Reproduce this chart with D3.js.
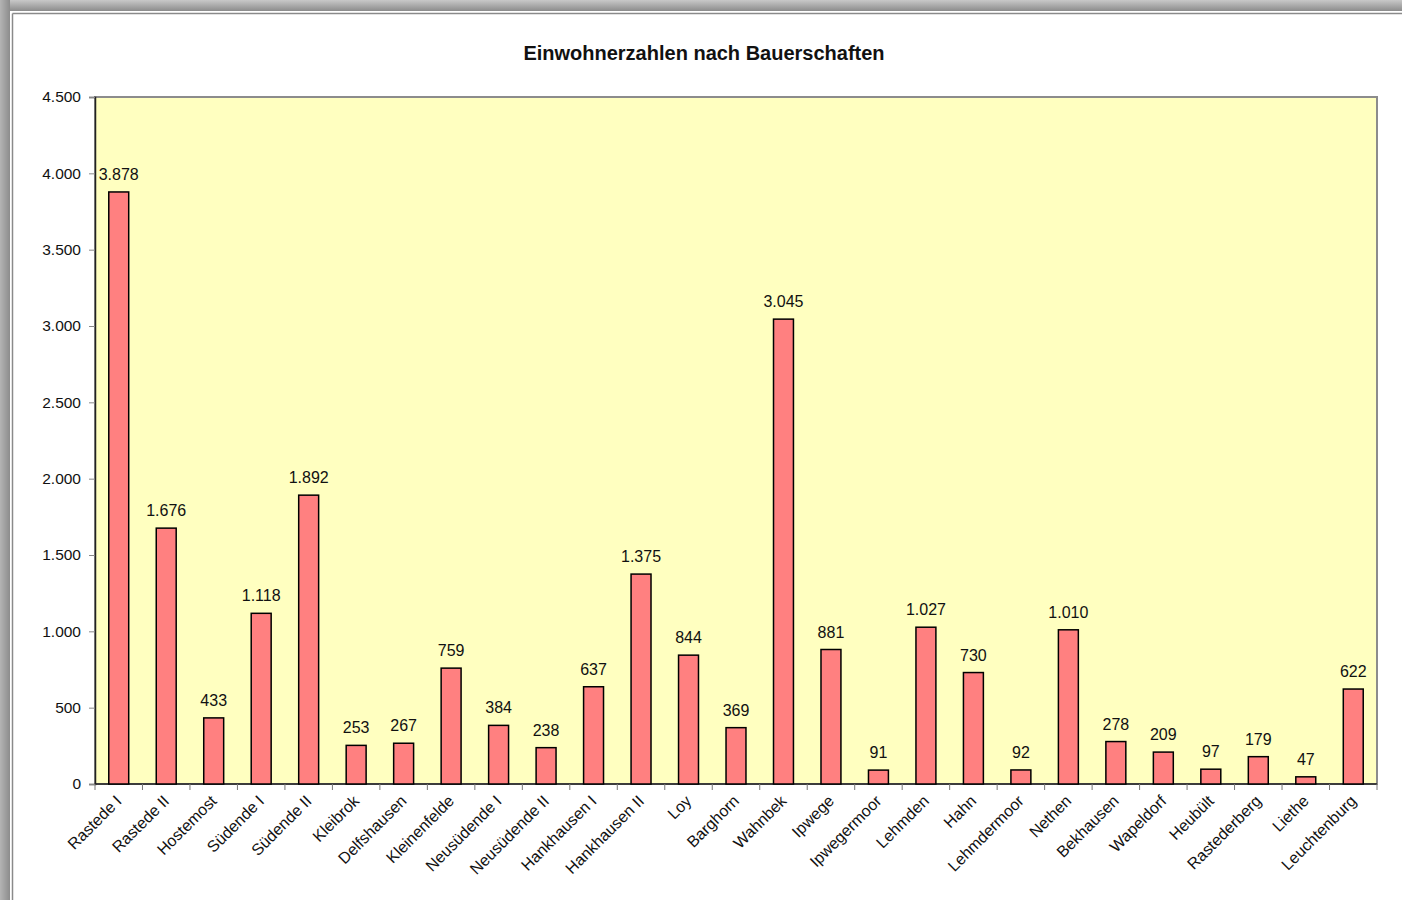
<!DOCTYPE html>
<html lang="de">
<head>
<meta charset="utf-8">
<title>Einwohnerzahlen nach Bauerschaften</title>
<script src="https://d3js.org/d3.v7.min.js"></script>
<style>
  html, body { margin: 0; padding: 0; background: #fff; }
  svg { display: block; font-family: "Liberation Sans", Arial, sans-serif; }
</style>
</head>
<body>
<svg id="chart" width="1402" height="900"></svg>
<script>
// Bauerschaften (categories) and inhabitants
var orte = ["Rastede I", "Rastede II", "Hostemost", "Südende I", "Südende II", "Kleibrok",
  "Delfshausen", "Kleinenfelde", "Neusüdende I", "Neusüdende II", "Hankhausen I",
  "Hankhausen II", "Loy", "Barghorn", "Wahnbek", "Ipwege", "Ipwegermoor", "Lehmden",
  "Hahn", "Lehmdermoor", "Nethen", "Bekhausen", "Wapeldorf", "Heubült", "Rastederberg",
  "Liethe", "Leuchtenburg"]
var einwohner = [3878, 1676, 433, 1118, 1892, 253, 267, 759, 384, 238, 637, 1375, 844,
  369, 3045, 881, 91, 1027, 730, 92, 1010, 278, 209, 97, 179, 47, 622]
var yTicks = [0, 500, 1000, 1500, 2000, 2500, 3000, 3500, 4000, 4500]

var fmt = d3.formatLocale({ decimal: ",", thousands: ".", grouping: [3], currency: ["", "€"] }).format(",d")

var svg = d3.select("#chart")

// page frame (gray border like the screenshot)
var defs = svg.append("defs")
var gTop = defs.append("linearGradient").attr("id", "gTop").attr("x1", 0).attr("y1", 0).attr("x2", 0).attr("y2", 1)
gTop.append("stop").attr("offset", "0%").attr("stop-color", "#c8c8c8")
gTop.append("stop").attr("offset", "100%").attr("stop-color", "#8c8c8c")
var gLeft = defs.append("linearGradient").attr("id", "gLeft").attr("x1", 0).attr("y1", 0).attr("x2", 1).attr("y2", 0)
gLeft.append("stop").attr("offset", "0%").attr("stop-color", "#b4b4b4")
gLeft.append("stop").attr("offset", "100%").attr("stop-color", "#8c8c8c")

svg.append("rect").attr("x", 0).attr("y", 0).attr("width", 1402).attr("height", 11).attr("fill", "url(#gTop)")
svg.append("rect").attr("x", 0).attr("y", 0).attr("width", 10).attr("height", 900).attr("fill", "url(#gLeft)")
svg.append("line").attr("x1", 12.5).attr("x2", 1402).attr("y1", 13.5).attr("y2", 13.5).attr("stroke", "#8a8a8a").attr("stroke-width", 1.5)
svg.append("line").attr("x1", 12.5).attr("x2", 12.5).attr("y1", 13.5).attr("y2", 900).attr("stroke", "#8a8a8a").attr("stroke-width", 1.5)

var pLeft = 95, pRight = 1377, pTop = 97, pBottom = 784

var x = d3.scaleBand().domain(orte).range([pLeft, pRight]).paddingInner(0.58).paddingOuter(0.29)
var xEdges = d3.scaleLinear().domain([0, orte.length]).range([pLeft, pRight])
var y = d3.scaleLinear().domain([0, 4500]).range([pBottom, pTop])

// plot area
svg.append("rect").attr("x", pLeft).attr("y", pTop).attr("width", pRight - pLeft).attr("height", pBottom - pTop)
  .attr("fill", "#ffffc0").attr("stroke", "#8c8c8c").attr("stroke-width", 2)

// title
svg.append("text").attr("x", 704).attr("y", 60).attr("text-anchor", "middle")
  .attr("font-size", 20).attr("font-weight", "bold").attr("fill", "#111")
  .text("Einwohnerzahlen nach Bauerschaften")

// y axis
var yAxis = svg.append("g").attr("transform", "translate(" + pLeft + ",0)")
  .call(d3.axisLeft(y).tickValues(yTicks).tickSize(6).tickPadding(8).tickFormat(fmt))
yAxis.select(".domain").attr("stroke", "#222").attr("stroke-width", 1.5)
yAxis.selectAll(".tick line").attr("stroke", "#888")
yAxis.selectAll("text").attr("font-size", 15.5).attr("fill", "#111").attr("font-family", "Liberation Sans, Arial, sans-serif")

// x axis line + ticks between categories
svg.append("line").attr("x1", pLeft).attr("x2", pRight).attr("y1", pBottom).attr("y2", pBottom)
  .attr("stroke", "#222").attr("stroke-width", 1.5)
svg.append("g").selectAll("line").data(d3.range(orte.length + 1)).join("line")
  .attr("x1", function (i) { return xEdges(i) }).attr("x2", function (i) { return xEdges(i) })
  .attr("y1", pBottom).attr("y2", pBottom + 6)
  .attr("stroke", "#777").attr("stroke-width", 1)

// bars
svg.append("g").selectAll("rect").data(orte).join("rect")
  .attr("x", function (d) { return x(d) })
  .attr("y", function (d, i) { return y(einwohner[i]) })
  .attr("width", x.bandwidth())
  .attr("height", function (d, i) { return y(0) - y(einwohner[i]) })
  .attr("fill", "#ff8080").attr("stroke", "#000").attr("stroke-width", 1.5)

// value labels
svg.append("g").selectAll("text").data(orte).join("text")
  .attr("x", function (d) { return x(d) + x.bandwidth() / 2 })
  .attr("y", function (d, i) { return y(einwohner[i]) - 12 })
  .attr("text-anchor", "middle").attr("font-size", 16).attr("fill", "#111")
  .text(function (d, i) { return fmt(einwohner[i]) })

// category labels, rotated
svg.append("g").selectAll("text").data(orte).join("text")
  .attr("text-anchor", "end").attr("font-size", 16).attr("fill", "#111")
  .attr("transform", function (d) {
    return "translate(" + (x(d) + x.bandwidth() / 2 + 4) + "," + (pBottom + 18) + ") rotate(-45)"
  })
  .text(function (d) { return d })
</script>
</body>
</html>
